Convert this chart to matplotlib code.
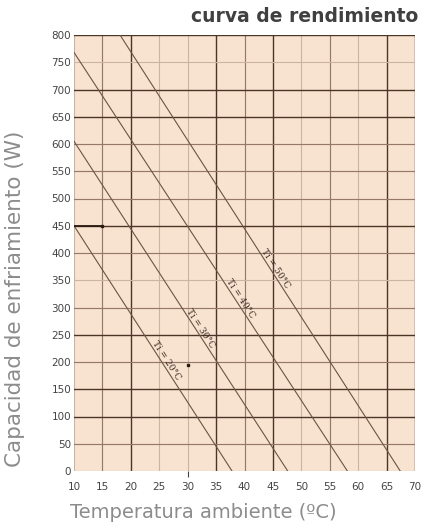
import numpy as np
from matplotlib import pyplot as plt

# performance curves: one straight line per indoor temperature
labels = ['Ti = 20°C', 'Ti = 30°C', 'Ti = 40°C', 'Ti = 50°C']
x_start = [10, 10, 10, 18.1]
y_start = [450, 605, 768, 800]
x_end = [37.8, 47.6, 58.1, 67.4]
y_end = [0, 0, 0, 0]

# where along each line its label sits (x in degC)
lab_x = [25.6, 31.6, 38.6, 44.8]

# marked points
pt_x = [15, 30]
pt_y = [450, 194]

xticks = list(range(10, 71, 5))
yticks = list(range(0, 801, 50))

# grid shading as in the scanned chart
x_dark = [20, 35, 45, 65, 70]
x_mid = [15, 40, 55]
x_light = [10, 25, 30, 50, 60]
y_dark = [800, 700, 650, 450, 250, 150, 100]
y_mid = [600, 550, 500, 400, 300, 200, 50]
y_light = [750, 350, 0]

fig = plt.figure(figsize=(4.32, 5.31), dpi=100)
ax = fig.add_axes([74/432, 1-471/531, 341/432, 436/531])
ax.set_facecolor('#f8e3d1')
ax.set_xlim(10, 70)
ax.set_ylim(0, 800)

for v in x_light:
    ax.axvline(v, color='#ccb4a2', lw=0.8, zorder=1)
for v in x_mid:
    ax.axvline(v, color='#96786a', lw=0.85, zorder=1)
for v in x_dark:
    ax.axvline(v, color='#4e3426', lw=1.0, zorder=1)
for v in y_light:
    ax.axhline(v, color='#ccb4a2', lw=0.8, zorder=1)
for v in y_mid:
    ax.axhline(v, color='#96786a', lw=0.85, zorder=1)
for v in y_dark:
    ax.axhline(v, color='#4e3426', lw=1.0, zorder=1)

for sp in ax.spines.values():
    sp.set_visible(False)

for i in range(len(labels)):
    ax.plot([x_start[i], x_end[i]], [y_start[i], y_end[i]], color='#6b5444', lw=0.8, zorder=2)
    ly = np.interp(lab_x[i], [x_start[i], x_end[i]], [y_start[i], y_end[i]])
    ax.text(lab_x[i], ly, labels[i], rotation=-57, rotation_mode='anchor',
            ha='center', va='bottom', fontsize=6.5, family='DejaVu Serif',
            color='#3a2a20', zorder=3)

# short dark marker segment at 450 W and the points
ax.plot([10, pt_x[0]], [pt_y[0], pt_y[0]], color='#2a1a10', lw=1.3, zorder=2)
ax.plot(pt_x, pt_y, 's', color='#2a1a10', ms=1.8, zorder=3)

ax.set_xticks(xticks)
ax.set_yticks(yticks)
ax.tick_params(length=0, labelsize=7.5, colors='#444444')
ax.tick_params(axis='y', pad=2)
ax.tick_params(axis='x', pad=8)
t = ax.xaxis.get_major_ticks()[xticks.index(30)]
t.tick1line.set_markersize(4)
t.tick1line.set_markeredgewidth(0.8)
t.tick1line.set_color('#888888')

fig.text(70/432, 1-513/531, 'Temperatura ambiente (ºC)', fontsize=14, color='#8c8c8c',
         ha='left', va='center')
fig.text(15/432, 1-299/531, 'Capacidad de enfriamiento (W)', fontsize=15.5, color='#8c8c8c',
         rotation=90, ha='center', va='center')
fig.text(418/432, 1-16/531, 'curva de rendimiento', fontsize=13.5, fontweight='bold',
         color='#404040', ha='right', va='center')

plt.savefig('out.png', dpi=100)
